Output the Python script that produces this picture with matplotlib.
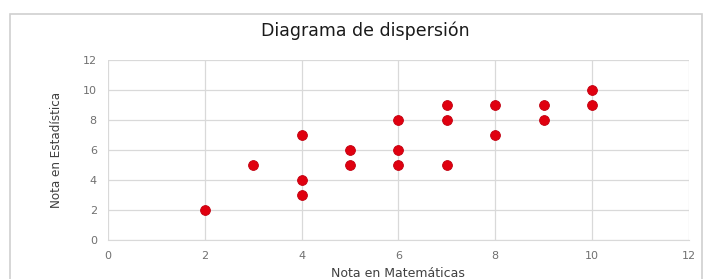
import matplotlib.pyplot as plt
from matplotlib.patches import Rectangle

# Notas de los alumnos
nota_matematicas = [2, 3, 4, 4, 4, 5, 5, 6, 6, 6, 7, 7, 7, 8, 8, 9, 9, 10, 10]
nota_estadistica = [2, 5, 7, 4, 3, 6, 5, 8, 6, 5, 9, 8, 5, 9, 7, 9, 8, 10, 9]
ticks_x = [0, 2, 4, 6, 8, 10, 12]
ticks_y = [0, 2, 4, 6, 8, 10, 12]

fig = plt.figure(figsize=(7.1, 2.79), dpi=100)
ax = fig.add_axes([0.152, 0.140, 0.818, 0.645])

# Marco del gráfico (estilo Excel)
fig.patches.append(Rectangle((0.014, -0.05), 0.975, 1.0, transform=fig.transFigure,
                             fill=False, edgecolor='#d0d0d0', linewidth=1.2))

ax.scatter(nota_matematicas, nota_estadistica, s=50, color='#e0000f', edgecolors='#c00010',
           linewidths=0.6, zorder=3)

ax.set_xlim(0, 12)
ax.set_ylim(0, 12)
ax.set_xticks(ticks_x)
ax.set_yticks(ticks_y)
ax.grid(True, color='#d9d9d9', linewidth=0.9)
ax.set_axisbelow(True)
ax.tick_params(length=0, labelsize=8, colors='#707070', pad=8)
for side in ['top', 'right', 'left']:
    ax.spines[side].set_visible(False)
ax.spines['bottom'].set_color('#d9d9d9')

fig.text(0.515, 0.89, 'Diagrama de dispersión', fontsize=12.5, color='#1a1a1a',
         ha='center', va='center', fontweight='medium')
ax.set_ylabel('Nota en Estadística', fontsize=9.5, color='#404040',
              fontstretch='condensed', labelpad=14)
ax.set_xlabel('Nota en Matemáticas', fontsize=9, color='#404040', labelpad=4)

fig.savefig('out.png', dpi=100)
